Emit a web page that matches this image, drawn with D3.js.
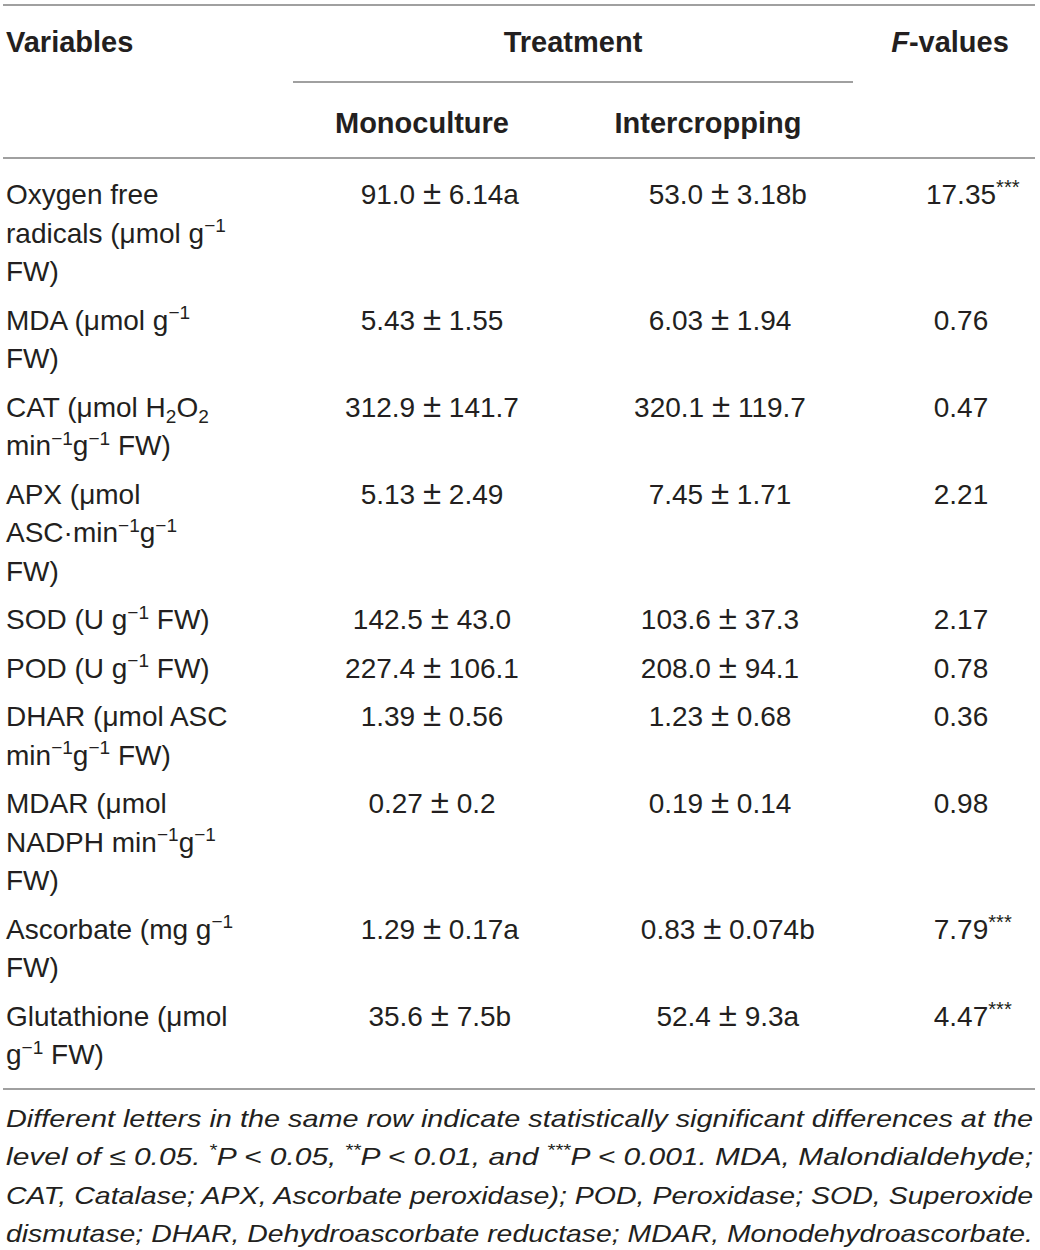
<!DOCTYPE html>
<html>
<head>
<meta charset="utf-8">
<script src="https://cdn.jsdelivr.net/npm/d3@7"></script>
<style>
	body { margin: 0; background: #fff; }
	svg text { white-space: pre; }
</style>
</head>
<body>
<div id="table"></div>
<script>
// Rows of the table, label lines as printed (^{} = superscript, _{} = subscript)
let variables = [
	['Oxygen free', 'radicals (\u03bcmol g^{\u22121}', 'FW)'],
	['MDA (\u03bcmol g^{\u22121}', 'FW)'],
	['CAT (\u03bcmol H_{2}O_{2}', 'min^{\u22121}g^{\u22121} FW)'],
	['APX (\u03bcmol', 'ASC\u00b7min^{\u22121}g^{\u22121}', 'FW)'],
	['SOD (U g^{\u22121} FW)'],
	['POD (U g^{\u22121} FW)'],
	['DHAR (\u03bcmol ASC', 'min^{\u22121}g^{\u22121} FW)'],
	['MDAR (\u03bcmol', 'NADPH min^{\u22121}g^{\u22121}', 'FW)'],
	['Ascorbate (mg g^{\u22121}', 'FW)'],
	['Glutathione (\u03bcmol', 'g^{\u22121} FW)']
];

let monoMean   = ['91.0', '5.43', '312.9', '5.13', '142.5', '227.4', '1.39', '0.27', '1.29', '35.6'];
let monoSE     = ['6.14', '1.55', '141.7', '2.49', '43.0', '106.1', '0.56', '0.2', '0.17', '7.5'];
let monoLetter = ['a', '', '', '', '', '', '', '', 'a', 'b'];

let interMean   = ['53.0', '6.03', '320.1', '7.45', '103.6', '208.0', '1.23', '0.19', '0.83', '52.4'];
let interSE     = ['3.18', '1.94', '119.7', '1.71', '37.3', '94.1', '0.68', '0.14', '0.074', '9.3'];
let interLetter = ['b', '', '', '', '', '', '', '', 'b', 'a'];

let fValues = ['17.35', '0.76', '0.47', '2.21', '2.17', '0.78', '0.36', '0.98', '7.79', '4.47'];
let fStars  = ['***', '', '', '', '', '', '', '', '***', '***'];

let footnote = [
	'Different letters in the same row indicate statistically significant differences at the',
	'level of \u2264 0.05. ^{*}P < 0.05, ^{**}P < 0.01, and ^{***}P < 0.001. MDA, Malondialdehyde;',
	'CAT, Catalase; APX, Ascorbate peroxidase); POD, Peroxidase; SOD, Superoxide',
	'dismutase; DHAR, Dehydroascorbate reductase; MDAR, Monodehydroascorbate.'
];

let width = 1040;
let height = 1250;
let ink = '#231f20';
let rule = '#808080';
let fontSize = 28;
let font = '"Liberation Sans", Arial, sans-serif';

let svg = d3.select('#table')
	.append('svg')
	.attr('width', width)
	.attr('height', height)
	.attr('font-family', font)
	.attr('fill', ink);

// column centres
let x = d3.scaleOrdinal()
	.domain(['mono', 'inter', 'f'])
	.range([432, 720, 961]);

// one unit = one printed line; rows are separated by a small extra gap
let lineH = 38.6;
let gap = 9.8 / lineH;
let y = d3.scaleLinear()
	.domain([0, 1])
	.range([194, 194 + lineH]);

let rowStart = [];
let u = 0;
for(let i = 0; i < variables.length; i++){
	rowStart.push(u);
	u += variables[i].length + gap;
}

// write a string with ^{..} / _{..} parts as tspans
function rich(text, str, size){
	let parts = str.split(/(\^\{[^}]*\}|_\{[^}]*\})/).filter(function(p){ return p !== ''; });
	let shift = 0;
	parts.forEach(function(p){
		let kind = 'n', t = p;
		if(p.startsWith('^{')){ kind = 'sup'; t = p.slice(2, -1); }
		else if(p.startsWith('_{')){ kind = 'sub'; t = p.slice(2, -1); }
		let target = kind === 'sup' ? -size * 0.38 : (kind === 'sub' ? size * 0.22 : 0);
		text.append('tspan')
			.attr('dy', target - shift)
			.attr('font-size', kind === 'n' ? size : size * 0.68)
			.text(t);
		shift = target;
	});
}

// horizontal rules
let rules = [
	{x1: 3, x2: 1035, y: 5},
	{x1: 293, x2: 853, y: 82},
	{x1: 3, x2: 1035, y: 158},
	{x1: 3, x2: 1035, y: 1089}
];
svg.append('g')
	.selectAll('line')
	.data(rules)
	.enter()
	.append('line')
	.attr('x1', function(d){ return d.x1; })
	.attr('x2', function(d){ return d.x2; })
	.attr('y1', function(d){ return d.y; })
	.attr('y2', function(d){ return d.y; })
	.attr('stroke', rule)
	.attr('stroke-width', 1.4);

// header
let head = svg.append('g')
	.attr('font-weight', 'bold')
	.attr('font-size', 29);

head.append('text').attr('x', 6).attr('y', 52).text('Variables');
head.append('text').attr('x', 573).attr('y', 52).attr('text-anchor', 'middle').text('Treatment');
let fh = head.append('text').attr('x', 950).attr('y', 52).attr('text-anchor', 'middle');
fh.append('tspan').attr('font-style', 'italic').text('F');
fh.append('tspan').text('-values');
head.append('text').attr('x', 422).attr('y', 133).attr('text-anchor', 'middle').text('Monoculture');
head.append('text').attr('x', 708).attr('y', 133).attr('text-anchor', 'middle').text('Intercropping');

// body
let body = svg.append('g').attr('font-size', fontSize);
let base = 10;

variables.forEach(function(lines, i){
	lines.forEach(function(line, j){
		let t = body.append('text')
			.attr('x', 6)
			.attr('y', y(rowStart[i] + j) + base);
		rich(t, line, fontSize);
	});
});

// mean ± se centred on the column, letter hanging to the right
function meanCell(mean, se, letter, cx, cy){
	let t = body.append('text').attr('y', cy);
	t.append('tspan').text(mean + ' ');
	t.append('tspan').attr('font-size', fontSize * 1.18).text('\u00b1');
	t.append('tspan').text(' ' + se);
	let w = t.node().getComputedTextLength();
	if(letter) t.append('tspan').text(letter);
	t.attr('x', cx - w / 2);
}

function fCell(value, stars, cx, cy){
	let t = body.append('text').attr('y', cy);
	t.append('tspan').text(value);
	let w = t.node().getComputedTextLength();
	if(stars){
		t.append('tspan').attr('font-size', fontSize * 0.72).attr('dy', -fontSize * 0.34).text(stars);
	}
	t.attr('x', cx - w / 2);
}

for(let i = 0; i < variables.length; i++){
	let cy = y(rowStart[i]) + base;
	meanCell(monoMean[i], monoSE[i], monoLetter[i], x('mono'), cy);
	meanCell(interMean[i], interSE[i], interLetter[i], x('inter'), cy);
	fCell(fValues[i], fStars[i], x('f'), cy);
}

// footnote, justified to the table width
let foot = svg.append('g')
	.attr('font-size', 24)
	.attr('font-style', 'italic');

footnote.forEach(function(line, i){
	let t = foot.append('text')
		.attr('x', 6)
		.attr('y', 1127 + i * 38.3)
		.attr('textLength', 1027)
		.attr('lengthAdjust', 'spacingAndGlyphs');
	rich(t, line, 24);
});
</script>
</body>
</html>
